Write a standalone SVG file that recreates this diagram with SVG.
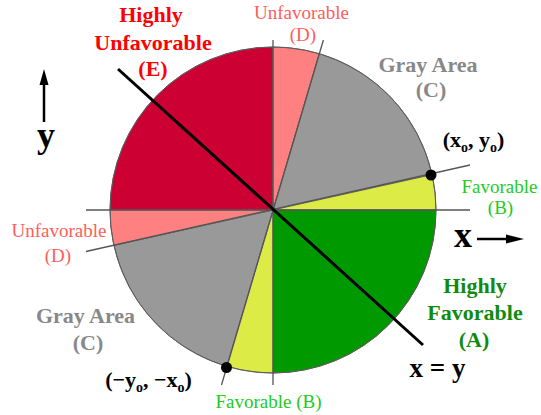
<svg xmlns="http://www.w3.org/2000/svg" width="541" height="415" viewBox="0 0 541 415">
<style>
text{font-family:"Liberation Serif","Times New Roman",serif;text-anchor:middle}
.b{font-weight:bold}
.sec{stroke:#5a5a5a;stroke-width:0.8}
.ax{stroke:#555;stroke-width:1.3;fill:none}
.E{fill:#CC0033}.D{fill:#FF8080}.C{fill:#999999}.B{fill:#DDEB47}.A{fill:#009900}
.tE{fill:#FF0000;font-size:22px;font-weight:bold}
.tD{fill:#FF5C5C;font-size:19px}
.tC{fill:#888888;font-size:22px;font-weight:bold}
.tB{fill:#22CC22;font-size:19px}
.tA{fill:#108A10;font-size:22px;font-weight:bold}
.tK{fill:#000;font-size:22px;font-weight:bold}
</style>
<rect width="541" height="415" fill="#fff"/>
<g id="pie">
<path class="sec E" d="M273,210 L110,210 A163,163 0 0 1 273,47 Z"/>
<path class="sec D" d="M273,210 L273,47 A163,163 0 0 1 319.3,53.7 Z"/>
<path class="sec C" d="M273,210 L319.3,53.7 A163,163 0 0 1 432.1,174.7 Z"/>
<path class="sec B" d="M273,210 L432.1,174.7 A163,163 0 0 1 436,210 Z"/>
<path class="sec A" d="M273,210 L436,210 A163,163 0 0 1 273,373 Z"/>
<path class="sec B" d="M273,210 L273,373 A163,163 0 0 1 226.7,366.3 Z"/>
<path class="sec C" d="M273,210 L226.7,366.3 A163,163 0 0 1 113.9,245.3 Z"/>
<path class="sec D" d="M273,210 L113.9,245.3 A163,163 0 0 1 110,210 Z"/>
<circle cx="273" cy="210" r="163" fill="none" stroke="#5a5a5a" stroke-width="1"/>
</g>
<g id="connectors">
<line class="ax" x1="86" y1="210" x2="470" y2="210"/>
<line class="ax" x1="273" y1="40" x2="273" y2="385"/>
<line class="ax" x1="86" y1="251.5" x2="470" y2="165"/>
<line class="ax" x1="323.4" y1="40" x2="221.5" y2="385"/>
<line x1="118" y1="69" x2="423" y2="345" stroke="#000" stroke-width="3"/>
<line x1="44" y1="122" x2="44" y2="80" stroke="#000" stroke-width="2.5"/>
<polygon points="44,69 39.5,85 48.5,85" fill="#000"/>
<line x1="477" y1="239" x2="510" y2="239" stroke="#000" stroke-width="2.5"/>
<polygon points="524,239 506,234.5 506,243.5" fill="#000"/>
</g>
<g id="points">
<circle cx="431" cy="175" r="5.5" fill="#000"/>
<circle cx="226.5" cy="367.5" r="5.5" fill="#000"/>
</g>
<g id="label-E">
<text class="tE" x="151" y="22">Highly</text>
<text class="tE" x="153" y="50">Unfavorable</text>
<text class="tE" x="153" y="76">(E)</text>
</g>
<g id="label-D-top">
<text class="tD" x="301.5" y="19">Unfavorable</text>
<text class="tD" x="303" y="41">(D)</text>
</g>
<g id="label-C-top">
<text class="tC" x="428" y="72">Gray Area</text>
<text class="tC" x="431" y="97">(C)</text>
</g>
<g id="label-x0y0">
<text class="tK" x="473.5" y="147">(x<tspan font-size="14" dy="5">o</tspan><tspan dy="-5">, y</tspan><tspan font-size="14" dy="5">o</tspan><tspan dy="-5">)</tspan></text>
</g>
<g id="label-B-right">
<text class="tB" x="499.5" y="193">Favorable</text>
<text class="tB" x="500.5" y="214">(B)</text>
</g>
<g id="label-x">
<text class="b" x="463" y="247" font-size="36">x</text>
</g>
<g id="label-y">
<text class="b" x="46" y="147" font-size="36">y</text>
</g>
<g id="label-D-left">
<text class="tD" x="59" y="237">Unfavorable</text>
<text class="tD" x="58" y="262">(D)</text>
</g>
<g id="label-C-left">
<text class="tC" x="85.5" y="323">Gray Area</text>
<text class="tC" x="88" y="350">(C)</text>
</g>
<g id="label-myx">
<text class="tK" x="148.5" y="387">(−y<tspan font-size="14" dy="5">o</tspan><tspan dy="-5">, −x</tspan><tspan font-size="14" dy="5">o</tspan><tspan dy="-5">)</tspan></text>
</g>
<g id="label-B-bottom">
<text class="tB" x="268.5" y="408">Favorable (B)</text>
</g>
<g id="label-A">
<text class="tA" x="475" y="293">Highly</text>
<text class="tA" x="475" y="320">Favorable</text>
<text class="tA" x="474" y="347">(A)</text>
</g>
<g id="label-xy">
<text class="b" x="437.5" y="377" font-size="27">x = y</text>
</g>
</svg>
